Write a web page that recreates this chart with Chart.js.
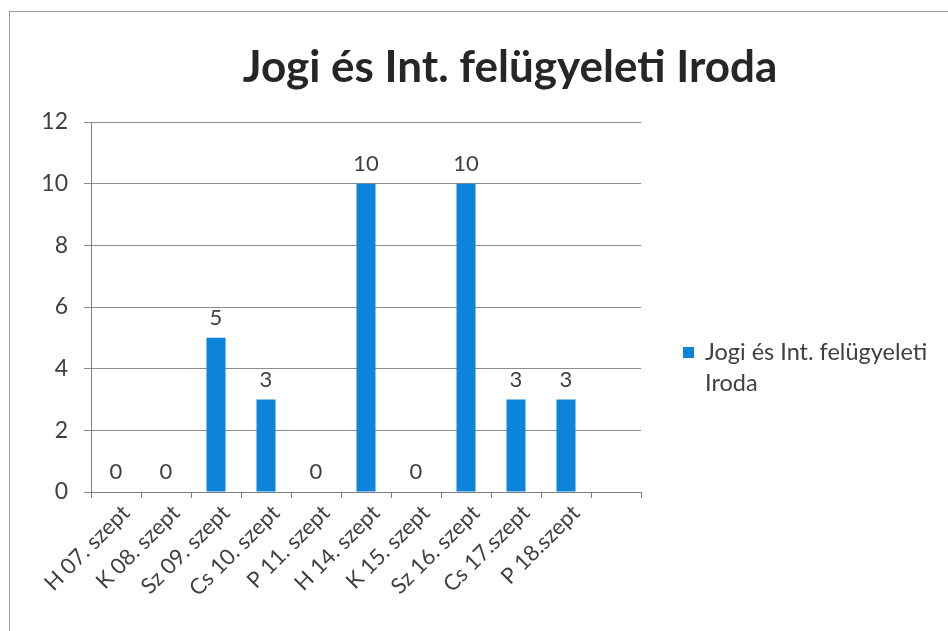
<!DOCTYPE html>
<html>
<head>
<meta charset="utf-8">
<script src="https://cdn.jsdelivr.net/npm/chart.js@4/dist/chart.umd.min.js"></script>
<style>
  html, body { margin: 0; padding: 0; background: #fff; }
  #wrap { width: 948px; height: 631px; }
</style>
</head>
<body>
<div id="wrap"><canvas id="myChart" width="948" height="631"></canvas></div>
<script>
var chartTitle = 'Jogi és Int. felügyeleti Iroda'
var labels = ['H 07. szept', 'K 08. szept', 'Sz 09. szept', 'Cs 10. szept', 'P 11. szept',
              'H 14. szept', 'K 15. szept', 'Sz 16. szept', 'Cs 17.szept', 'P 18.szept', '']
var values = [0, 0, 5, 3, 0, 10, 0, 10, 3, 3, null]
var yTicks = [0, 2, 4, 6, 8, 10, 12]

var barColor = '#0d84dc'
var textColor = '#404040'
var fontFamily = 'Lato, "Open Sans", sans-serif'

// frame, title, value labels and wrapped legend
var extras = {
    id: 'extras',
    beforeDraw: function(chart){
        var ctx = chart.ctx
        ctx.save()
        ctx.strokeStyle = '#9a9a9a'
        ctx.lineWidth = 1
        ctx.strokeRect(9.5, 11.5, chart.width + 20, chart.height + 20)
        ctx.restore()
    },
    afterDatasetsDraw: function(chart){
        var ctx = chart.ctx
        ctx.save()
        // title
        ctx.fillStyle = '#262626'
        ctx.font = 'bold 44px ' + fontFamily
        ctx.textAlign = 'center'
        ctx.textBaseline = 'middle'
        ctx.fillText(chartTitle, 510, 68)

        // value labels
        var meta = chart.getDatasetMeta(0)
        ctx.fillStyle = textColor
        ctx.font = '22px ' + fontFamily
        ctx.textBaseline = 'bottom'
        meta.data.forEach(function(bar, i){
            var v = chart.data.datasets[0].data[i]
            if (v === null || v === undefined) return
            ctx.fillText(String(v), bar.x, bar.y - 9)
        })

        // legend
        var ds = chart.data.datasets[0]
        var lx = 683, ly = 352
        ctx.fillStyle = ds.backgroundColor
        ctx.fillRect(lx, ly - 5, 11, 11)
        ctx.fillStyle = textColor
        ctx.font = '23.5px ' + fontFamily
        ctx.textAlign = 'left'
        ctx.textBaseline = 'middle'
        var parts = ['Jogi és Int. felügyeleti', 'Iroda']
        parts.forEach(function(p, i){
            ctx.fillText(p, lx + 22, ly + i * 31)
        })
        ctx.restore()
    }
}

document.addEventListener('DOMContentLoaded', function(){
    var ctx = document.getElementById('myChart').getContext('2d')
    var myChart = new Chart(ctx, {
        type: 'bar',
        data: {
            labels: labels,
            datasets: [{
                label: chartTitle,
                data: values,
                backgroundColor: barColor,
                barPercentage: 0.38,
                categoryPercentage: 1.0
            }]
        },
        options: {
            responsive: false,
            animation: false,
            layout: { padding: { top: 122, right: 307, left: 0, bottom: 0 } },
            plugins: {
                legend: { display: false },
                title: { display: false },
                tooltip: { enabled: false }
            },
            scales: {
                x: {
                    afterFit: function(scale){ scale.height = 139 },
                    grid: {
                        display: true,
                        drawOnChartArea: false,
                        drawTicks: true,
                        tickLength: 6,
                        color: '#808080',
                        offset: true
                    },
                    border: { color: '#808080' },
                    ticks: {
                        color: textColor,
                        font: { family: fontFamily, size: 22 },
                        maxRotation: 45,
                        minRotation: 45,
                        autoSkip: false,
                        labelOffset: 10,
                        padding: 2
                    }
                },
                y: {
                    min: 0,
                    max: 12,
                    afterFit: function(scale){ scale.width = 91 },
                    afterBuildTicks: function(axis){
                        axis.ticks = yTicks.map(function(v){ return { value: v } })
                    },
                    grid: {
                        color: '#8c8c8c',
                        tickLength: 7,
                        drawTicks: true
                    },
                    border: { color: '#808080' },
                    ticks: {
                        color: textColor,
                        font: { family: fontFamily, size: 23 },
                        padding: 16
                    }
                }
            }
        },
        plugins: [extras]
    })
})
</script>
</body>
</html>
